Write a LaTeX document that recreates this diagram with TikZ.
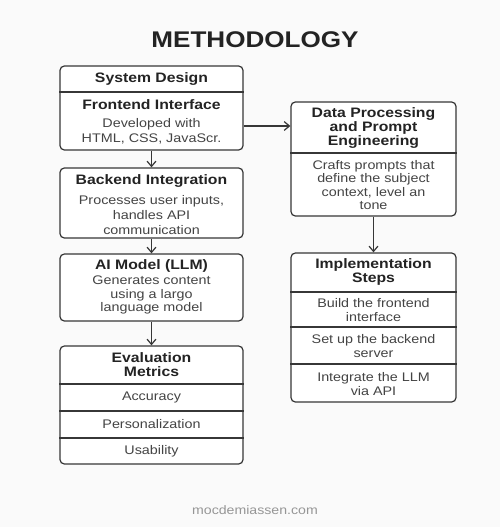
\documentclass[tikz,border=0pt]{standalone}
\usepackage{fontspec}
\setmainfont{Liberation Sans}[FakeStretch=1.15]
\usepackage{xcolor}
\definecolor{linecol}{RGB}{55,55,55}
\definecolor{textcol}{RGB}{35,35,35}
\definecolor{bgcol}{RGB}{250,250,250}
\definecolor{footcol}{RGB}{150,150,150}
\usetikzlibrary{arrows.meta,positioning,calc}

\begin{document}
\begin{tikzpicture}[
  boxl/.style={rectangle, rounded corners=2.5pt, draw=linecol, fill=white,
               line width=0.7pt, minimum width=3.66cm, inner sep=0pt},
  boxr/.style={rectangle, rounded corners=2.5pt, draw=linecol, fill=white,
               line width=0.7pt, minimum width=3.30cm, inner sep=0pt},
  hdr/.style={font=\bfseries\fontsize{7.8}{8}\selectfont, align=center, text=textcol, inner sep=0pt},
  txt/.style={font=\fontsize{7.1}{7.6}\selectfont, align=center, text=textcol!85, inner sep=0pt},
  sep/.style={draw=linecol, line width=0.7pt},
  arr/.style={-{Straight Barb[length=3pt,width=5pt]}, line width=0.7pt, color=linecol}
]
\fill[bgcol] (0,0) rectangle (10,-10.54);

%% title
\node[font=\bfseries\fontsize{12.9}{14}\selectfont, text=textcol] (title) at (5.1,-0.80) {METHODOLOGY};

%% left column
\node[boxl, minimum height=1.68cm] (sys) at (3.03,-2.16) {};
\node[boxl, minimum height=1.40cm] (back) at (3.03,-4.06) {};
\node[boxl, minimum height=1.34cm] (llm) at (3.03,-5.75) {};
\node[boxl, minimum height=2.36cm] (eval) at (3.03,-8.10) {};

\draw[sep] (sys.west |- 0,-1.84) -- (sys.east |- 0,-1.84);
\draw[sep] (eval.west |- 0,-7.68) -- (eval.east |- 0,-7.68);
\draw[sep] (eval.west |- 0,-8.22) -- (eval.east |- 0,-8.22);
\draw[sep] (eval.west |- 0,-8.76) -- (eval.east |- 0,-8.76);

\node[hdr] (sysh) at (3.03,-1.58) {System Design};
\node[hdr] (front) at (3.03,-2.10) {Frontend Interface};
\node[txt] (frontt) at (3.03,-2.62) {Developed with\\[1pt]HTML, CSS, JavaScr.};
\node[hdr] (backh) at (3.03,-3.62) {Backend Integration};
\node[txt] (backt) at (3.03,-4.30) {Processes user inputs,\\[1pt]handles API\\[1pt]communication};
\node[hdr] (llmh) at (3.03,-5.32) {AI Model (LLM)};
\node[txt] (llmt) at (3.03,-5.90) {Generates content\\using a largo\\language model};
\node[hdr] (evalh) at (3.03,-7.30) {Evaluation\\Metrics};
\node[txt] (acc) at (3.03,-7.94) {Accuracy};
\node[txt] (pers) at (3.03,-8.48) {Personalization};
\node[txt] (usab) at (3.03,-9.02) {Usability};

%% right column
\node[boxr, minimum height=2.28cm] (data) at (7.47,-3.18) {};
\node[boxr, minimum height=2.98cm] (impl) at (7.47,-6.55) {};

\draw[sep] (data.west |- 0,-3.06) -- (data.east |- 0,-3.06);
\draw[sep] (impl.west |- 0,-5.84) -- (impl.east |- 0,-5.84);
\draw[sep] (impl.west |- 0,-6.54) -- (impl.east |- 0,-6.54);
\draw[sep] (impl.west |- 0,-7.28) -- (impl.east |- 0,-7.28);

\node[hdr] (datah) at (7.47,-2.56) {Data Processing\\and Prompt\\Engineering};
\node[txt] (datat) at (7.47,-3.70) {Crafts prompts that\\define the subject\\context, level an\\tone};
\node[hdr] (implh) at (7.47,-5.44) {Implementation\\Steps};
\node[txt] (build) at (7.47,-6.20) {Build the frontend\\interface};
\node[txt] (setup) at (7.47,-6.92) {Set up the backend\\server};
\node[txt] (integ) at (7.47,-7.68) {Integrate the LLM\\via API};

\draw[arr] (sys) -- (back);
\draw[arr] (back) -- (llm);
\draw[arr] (llm) -- (eval);
\draw[arr] (sys.east |- 0,-2.52) -- (data.west |- 0,-2.52);
\draw[arr] (data) -- (impl);

\node[font=\fontsize{7}{8}\selectfont, text=footcol] (foot) at (5.1,-10.2) {mocdemiassen.com};
\end{tikzpicture}
\end{document}
